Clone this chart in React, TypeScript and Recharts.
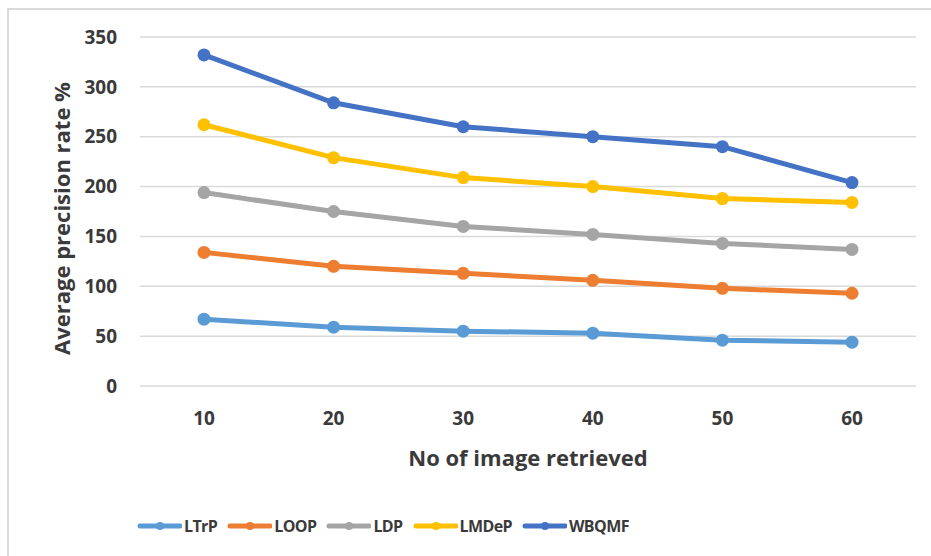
import React from 'react';
import {
    LineChart,
    Line,
    XAxis,
    YAxis,
    CartesianGrid,
    Legend,
} from 'recharts';

const categories = ['10', '20', '30', '40', '50', '60'];
const ltrp = [67, 59, 55, 53, 46, 44];
const loop = [134, 120, 113, 106, 98, 93];
const ldp = [194, 175, 160, 152, 143, 137];
const lmdep = [262, 229, 209, 200, 188, 184];
const wbqmf = [332, 284, 260, 250, 240, 204];
const yTicks = [0, 50, 100, 150, 200, 250, 300, 350];

const series = [
    { key: 'LTrP', values: ltrp, color: '#5B9BD5' },
    { key: 'LOOP', values: loop, color: '#ED7D31' },
    { key: 'LDP', values: ldp, color: '#A5A5A5' },
    { key: 'LMDeP', values: lmdep, color: '#FFC000' },
    { key: 'WBQMF', values: wbqmf, color: '#4472C4' },
];

const FONT = '"Open Sans", Lato, sans-serif';
const TEXT = '#3a3a3a';

const chartData = categories.map((c, i) => {
    const row: any = { x: c };
    series.forEach(s => {
        row[s.key] = s.values[i];
    });
    return row;
});

function LegendContent() {
    return (
        <div
            style={{
                display: 'flex',
                alignItems: 'center',
                paddingLeft: 137,
                height: 30,
                fontFamily: FONT,
                fontWeight: 700,
                fontSize: 16,
                letterSpacing: -0.6,
                color: TEXT,
            }}
        >
            {series.map(s => (
                <div
                    key={s.key}
                    style={{
                        display: 'flex',
                        alignItems: 'center',
                        marginRight: 10,
                    }}
                >
                    <svg width={45} height={14} style={{ marginRight: 2 }}>
                        <line
                            x1={3}
                            y1={7}
                            x2={43}
                            y2={7}
                            stroke={s.color}
                            strokeWidth={5}
                            strokeLinecap="round"
                        />
                        <circle cx={23} cy={7} r={4} fill={s.color} />
                    </svg>
                    <span>{s.key}</span>
                </div>
            ))}
        </div>
    );
}

function YLabel(props: any) {
    const { viewBox } = props;
    const x = viewBox.x + 61;
    const y = viewBox.y + viewBox.height / 2 + 7;
    return (
        <text
            x={x}
            y={y}
            transform={`rotate(-90, ${x}, ${y})`}
            textAnchor="middle"
            dominantBaseline="central"
            fill={TEXT}
            fontSize={22}
            fontWeight={700}
            fontFamily={FONT}
        >
            Average precision rate %
        </text>
    );
}

export default function App() {
    return (
        <div
            style={{
                position: 'absolute',
                left: 0,
                top: 0,
                width: 931,
                height: 556,
                background: '#fff',
            }}
        >
            <div
                style={{
                    position: 'absolute',
                    left: 7,
                    top: 8,
                    right: 0,
                    bottom: 0,
                    borderTop: '2px solid #d9d9d9',
                    borderLeft: '2px solid #d9d9d9',
                }}
            />
            <LineChart
                width={931}
                height={556}
                data={chartData}
                margin={{ top: 37, right: 15, left: 0, bottom: 80 }}
                style={{ position: 'absolute', left: 0, top: 0 }}
            >
                <CartesianGrid
                    vertical={false}
                    stroke="#d9d9d9"
                    strokeWidth={1.5}
                />
                <XAxis
                    dataKey="x"
                    axisLine={false}
                    tickLine={false}
                    tickSize={0}
                    tickMargin={26}
                    height={60}
                    padding={{ left: 64, right: 64 }}
                    tick={{
                        fill: TEXT,
                        fontSize: 19,
                        fontWeight: 700,
                        fontFamily: FONT,
                    }}
                    label={{
                        value: 'No of image retrieved',
                        position: 'bottom',
                        offset: 4,
                        fill: TEXT,
                        fontSize: 22,
                        fontWeight: 700,
                        fontFamily: FONT,
                    }}
                />
                <YAxis
                    domain={[0, 350]}
                    ticks={yTicks}
                    width={140}
                    axisLine={false}
                    tickLine={false}
                    tickSize={0}
                    tickMargin={23}
                    tick={{
                        fill: TEXT,
                        fontSize: 19,
                        fontWeight: 700,
                        fontFamily: FONT,
                    }}
                    label={<YLabel />}
                />
                <Legend
                    verticalAlign="bottom"
                    content={<LegendContent />}
                    wrapperStyle={{
                        top: 511,
                        bottom: 'auto',
                        left: 0,
                        width: 931,
                        height: 30,
                    }}
                />
                {series.map(s => (
                    <Line
                        key={s.key}
                        type="linear"
                        dataKey={s.key}
                        stroke={s.color}
                        strokeWidth={5}
                        dot={{ r: 6.5, fill: s.color, stroke: s.color, strokeWidth: 0 }}
                        activeDot={false}
                        isAnimationActive={false}
                    />
                ))}
            </LineChart>
        </div>
    );
}
